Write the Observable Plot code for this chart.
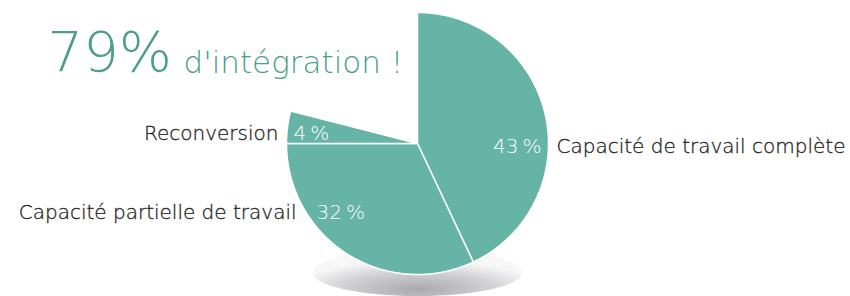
<!DOCTYPE html>
<html><head><meta charset="utf-8">
<script src="https://cdn.jsdelivr.net/npm/d3@7"></script>
<script src="https://cdn.jsdelivr.net/npm/@observablehq/plot@0.6"></script>
<style>body{margin:0;background:#fff}#chart svg{display:block}</style>
</head><body><div id="chart"></div>
<script>
// ---- data ----
const categories = ["Capacité de travail complète", "Capacité partielle de travail", "Reconversion"];
const values = [43, 32, 4];
const pctLabels = ["43\u2009%", "32\u2009%", "4\u2009%"];
const titleValue = "79%";
const titleText = "d'intégration !";

// ---- layout (not data) ----
const W = 850, H = 296, R = 131, CX = 417, CY = 143;
const FONT = "'DejaVu Sans', sans-serif";
const fillColor = "#66b4a5";
// label anchors in radius units relative to centre: [x, y(up), anchor, category gap px]
const pctPos = [[0.947, -0.02, "end", 15], [-0.771, -0.527, "start", -20], [-0.947, 0.076, "start", -15]];

// build slice polygons from the values
const slices = [];
let cum = 0;
values.forEach((v, i) => {
  const a0 = cum / 100 * 2 * Math.PI, a1 = (cum + v) / 100 * 2 * Math.PI;
  cum += v;
  const n = Math.max(4, Math.ceil((a1 - a0) / (Math.PI / 180)));
  slices.push({slice: i, x: 0, y: 0});
  for (let k = 0; k <= n; k++) {
    const a = a0 + (a1 - a0) * k / n;
    slices.push({slice: i, x: Math.sin(a), y: Math.cos(a)});
  }
});

// shadow ellipse beneath the pie
const shadow = [];
for (let k = 0; k <= 120; k++) {
  const a = k / 120 * 2 * Math.PI;
  shadow.push({x: 0.80 * Math.cos(a), y: -0.985 + 0.18 * Math.sin(a)});
}

const pctData = values.map((v, i) => ({x: pctPos[i][0], y: pctPos[i][1], anchor: pctPos[i][2], gap: pctPos[i][3], label: pctLabels[i], cat: categories[i]}));
const right = pctData.filter(d => d.anchor === "end");
const left = pctData.filter(d => d.anchor === "start");

const catMarks = pctData.map(d => Plot.text([d], {x: "x", y: "y", text: "cat", textAnchor: d.anchor === "end" ? "start" : "end", dx: d.gap, fill: "#2a2a2a", stroke: "#2a2a2a", strokeWidth: 0.35, fontSize: 20, lineAnchor: "middle"}));

const plot = Plot.plot({
  width: W, height: H,
  margin: 0,
  x: {domain: [-CX / R, (W - CX) / R], axis: null},
  y: {domain: [-(H - CY) / R, CY / R], axis: null},
  style: {fontFamily: FONT, background: "#fff", fontWeight: 200},
  marks: [
    Plot.line(shadow, {x: "x", y: "y", fill: "url(#shadowGrad)", stroke: "none", curve: "linear-closed"}),
    Plot.line(slices, {x: "x", y: "y", z: "slice", fill: fillColor, stroke: "#fff", strokeWidth: 1.5, strokeLinejoin: "round", curve: "linear-closed"}),
    // percentage labels
    Plot.text(right, {x: "x", y: "y", text: "label", textAnchor: "end", fill: "#fff", fontSize: 20, lineAnchor: "middle"}),
    Plot.text(left, {x: "x", y: "y", text: "label", textAnchor: "start", fill: "#fff", fontSize: 20, lineAnchor: "middle"}),
    // category labels
    ...catMarks,
    // title
    Plot.text([titleValue], {frameAnchor: "top-left", dx: 47, dy: 53, text: d => d, fill: "#4a9e8b", fontSize: 56, lineAnchor: "middle", textAnchor: "start"}),
    Plot.text([titleText], {frameAnchor: "top-left", dx: 183, dy: 63, text: d => d, fill: "#4a9e8b", fontSize: 31, lineAnchor: "middle", textAnchor: "start"})
  ]
});

const defs = d3.select(plot).insert("defs", ":first-child");
const g = defs.append("radialGradient").attr("id", "shadowGrad")
  .attr("cx", "50%").attr("cy", "85%").attr("r", "60%");
g.append("stop").attr("offset", "0%").attr("stop-color", "#a8a8ae");
g.append("stop").attr("offset", "60%").attr("stop-color", "#d2d2d5");
g.append("stop").attr("offset", "100%").attr("stop-color", "#f7f7f7");

document.getElementById("chart").appendChild(plot);
</script>
</body></html>
